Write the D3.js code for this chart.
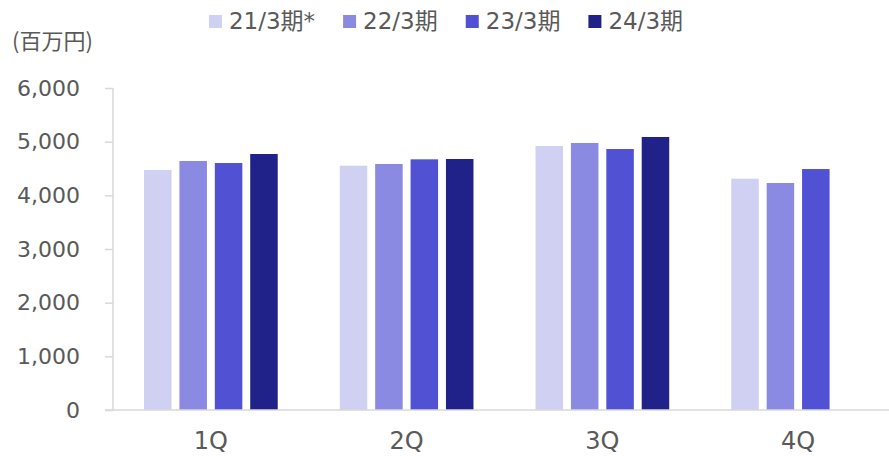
<!DOCTYPE html>
<html>
<head>
<meta charset="utf-8">
<script src="https://cdn.jsdelivr.net/npm/d3@7"></script>
<style>
  body { margin: 0; background: #fff; }
  text { font-family: "DejaVu Sans", "Noto Sans CJK JP", sans-serif; fill: #595959; }
</style>
</head>
<body>
<div id="chart"></div>
<script>
let quarters = ["1Q", "2Q", "3Q", "4Q"];
let seriesNames = ["21/3期*", "22/3期", "23/3期", "24/3期"];
let seriesColors = ["#d0d0f3", "#8a8ae2", "#5151d3", "#21218a"];
let fy21 = [4472, 4552, 4919, 4310];
let fy22 = [4640, 4584, 4975, 4230];
let fy23 = [4602, 4671, 4863, 4490];
let fy24 = [4770, 4677, 5087, null];
let yTicks = [0, 1000, 2000, 3000, 4000, 5000, 6000];

let allSeries = [fy21, fy22, fy23, fy24];
let width = 889, height = 456;
let mLeft = 113, mRight = 896, mTop = 88, mBottom = 410;

let svg = d3.select("#chart")
  .append("svg")
  .attr("width", width)
  .attr("height", height);

let x0 = d3.scaleBand().domain(quarters).range([mLeft, mRight]);
let inner = 133.7;
let x1 = d3.scaleBand()
  .domain(seriesNames)
  .range([(x0.bandwidth() - inner) / 2, (x0.bandwidth() + inner) / 2])
  .paddingInner(0.223);
let y = d3.scaleLinear().domain([0, 6000]).range([mBottom, mTop]);

// y axis
let yAxis = svg.append("g")
  .attr("transform", "translate(" + mLeft + ",0)")
  .call(d3.axisLeft(y).tickValues(yTicks).tickSize(8).tickPadding(25).tickFormat(d3.format(",")));
yAxis.select(".domain").attr("stroke", "#d9d9d9").attr("stroke-width", 1.5)
  .attr("d", "M0," + mTop + "V" + mBottom);
yAxis.selectAll(".tick line").attr("stroke", "#d9d9d9").attr("stroke-width", 1.5);
yAxis.selectAll(".tick text").attr("font-size", 22).attr("fill", "#595959")
  .style("font-family", "'DejaVu Sans', sans-serif");

// bars
let rows = [];
quarters.forEach(function (q, i) {
  seriesNames.forEach(function (s, j) {
    if (allSeries[j][i] != null) rows.push({ q: q, s: s, j: j, v: allSeries[j][i] });
  });
});
svg.append("g").selectAll("rect")
  .data(rows)
  .enter()
  .append("rect")
  .attr("x", function (d) { return x0(d.q) + x1(d.s); })
  .attr("y", function (d) { return y(d.v); })
  .attr("width", x1.bandwidth())
  .attr("height", function (d) { return y(0) - y(d.v); })
  .style("fill", function (d) { return seriesColors[d.j]; });

// x axis baseline
svg.append("line")
  .attr("x1", 105).attr("x2", width)
  .attr("y1", mBottom).attr("y2", mBottom)
  .attr("stroke", "#d9d9d9").attr("stroke-width", 1.5);

svg.append("g").selectAll("text")
  .data(quarters)
  .enter()
  .append("text")
  .attr("x", function (d) { return x0(d) + x0.bandwidth() / 2; })
  .attr("y", 449)
  .attr("text-anchor", "middle")
  .attr("font-size", 24)
  .text(function (d) { return d; });

// unit label
svg.append("text")
  .attr("x", 12).attr("y", 49)
  .attr("font-size", 22)
  .style("font-family", "'Noto Sans CJK JP', sans-serif")
  .text("(百万円)");

// legend
let legend = svg.append("g");
let items = legend.selectAll("g")
  .data(seriesNames)
  .enter()
  .append("g");
items.append("rect")
  .attr("y", 15).attr("width", 13).attr("height", 13)
  .style("fill", function (d, i) { return seriesColors[i]; });
items.append("text")
  .attr("x", 20).attr("y", 29)
  .attr("font-size", 23)
  .text(function (d) { return d; });
let pos = 0;
items.each(function () {
  let w = this.querySelector("text").getComputedTextLength();
  d3.select(this).attr("transform", "translate(" + pos + ",0)");
  pos += 20 + w + 28;
});
let total = pos - 28;
legend.attr("transform", "translate(" + (446 - total / 2) + ",0)");
</script>
</body>
</html>
